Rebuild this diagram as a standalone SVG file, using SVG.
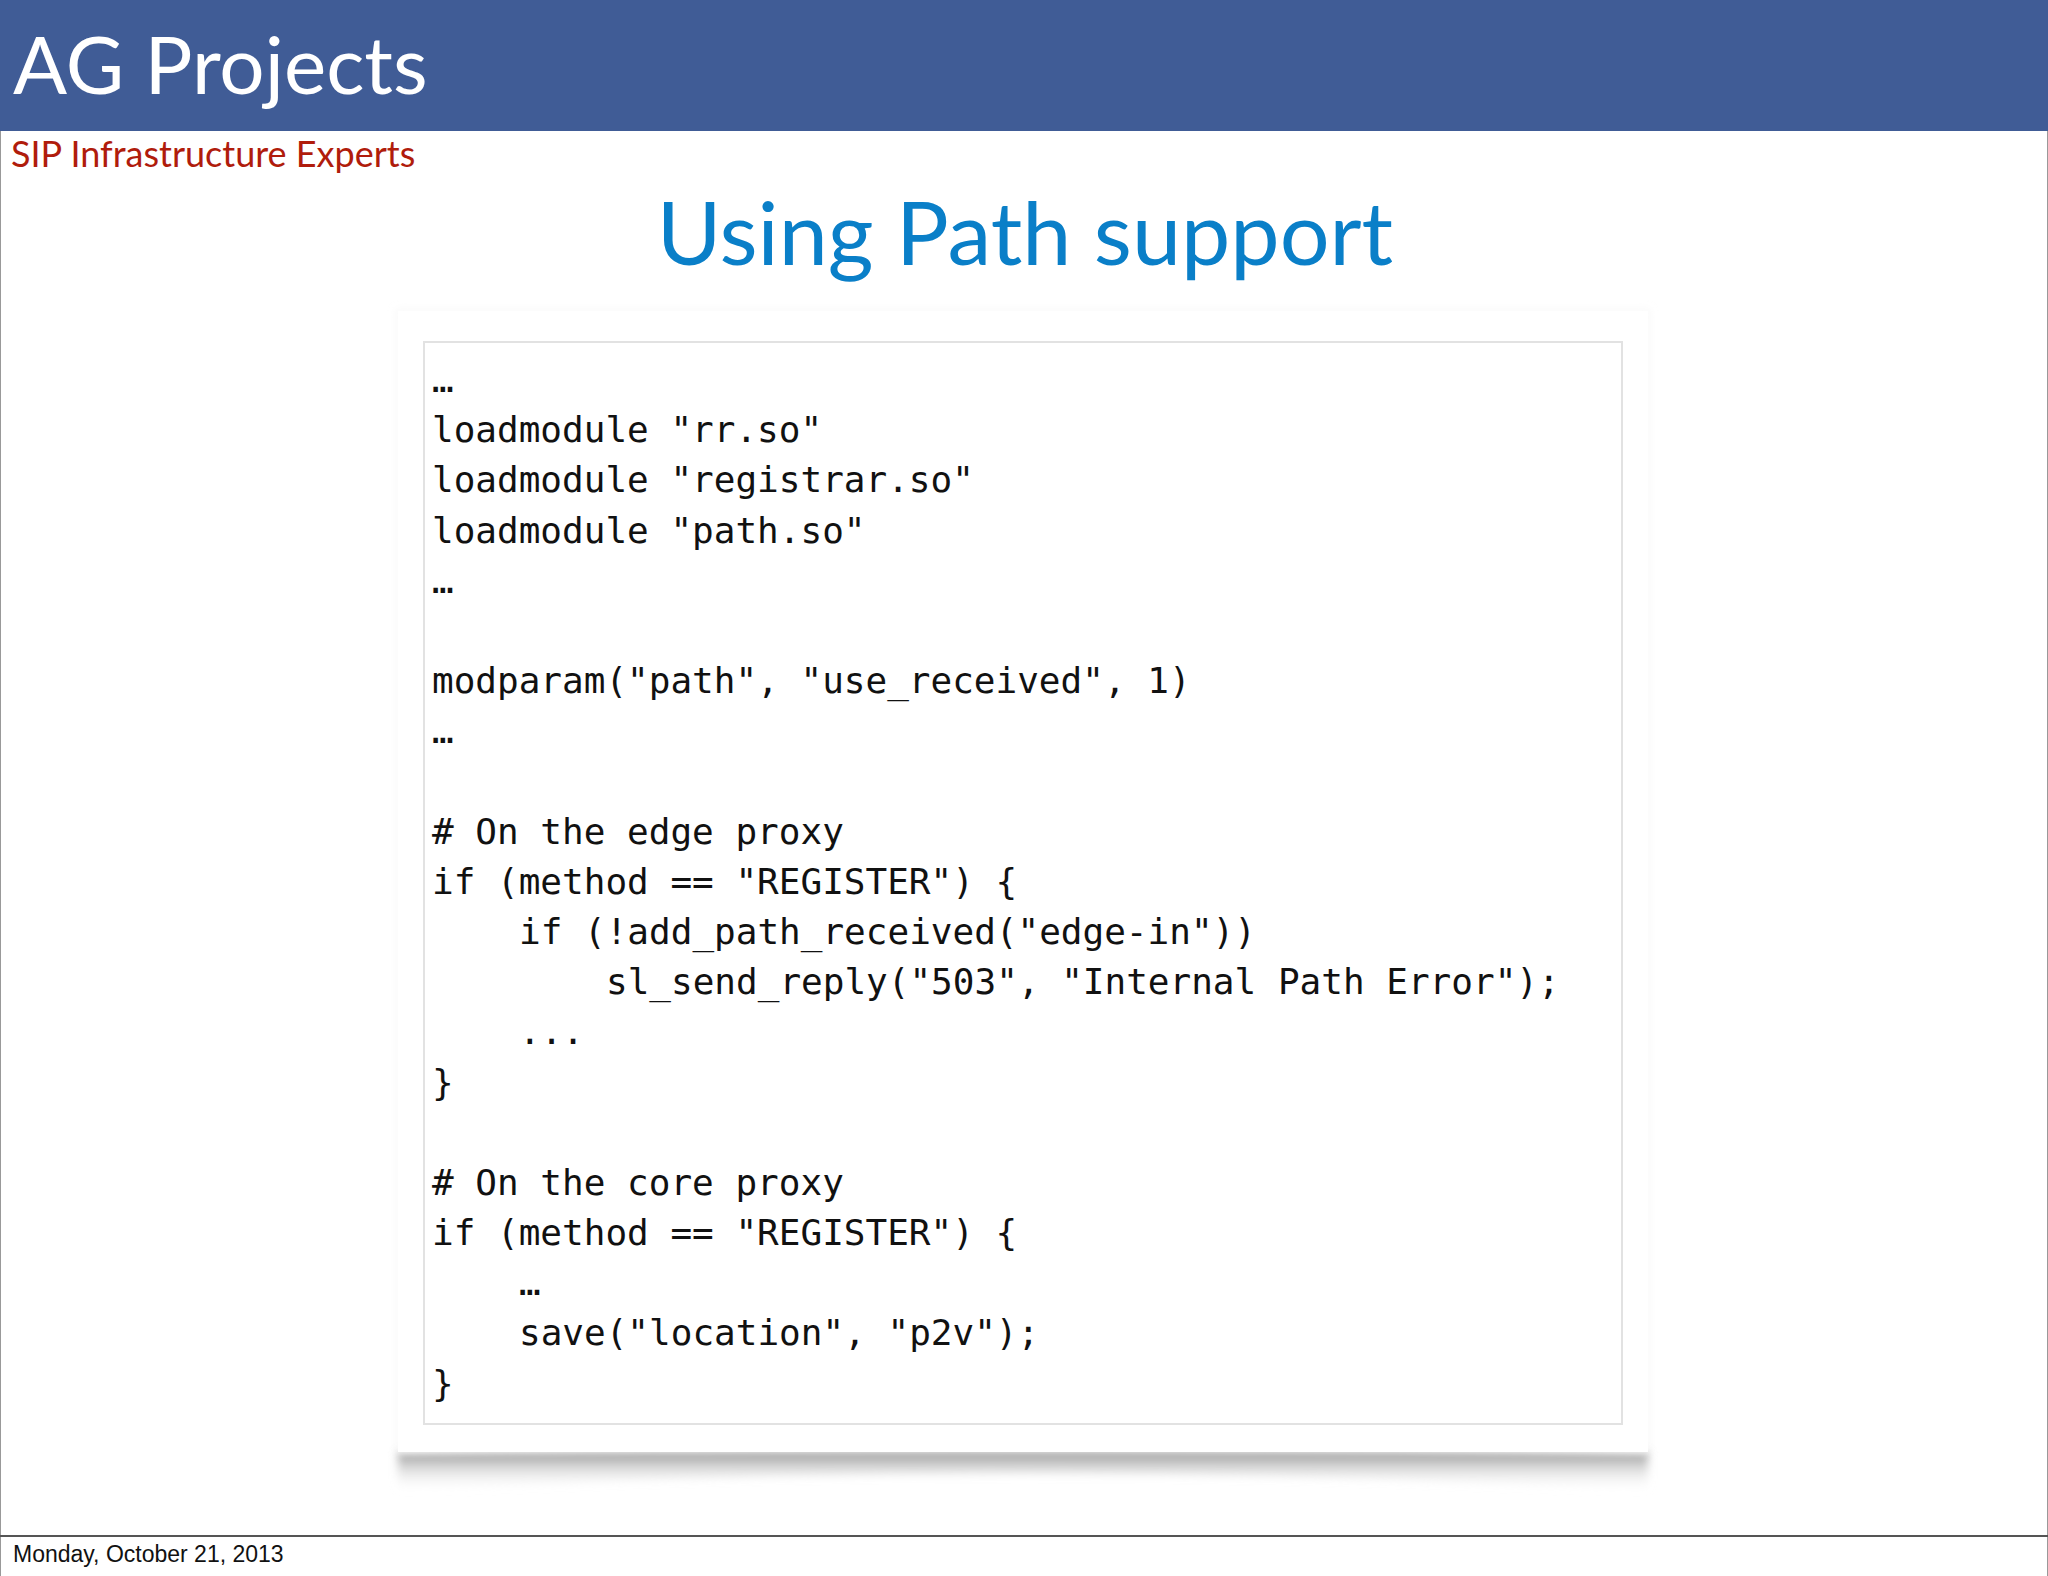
<svg xmlns="http://www.w3.org/2000/svg" width="2048" height="1576" viewBox="0 0 2048 1576">
<defs>
<style>
.code{font-family:"DejaVu Sans Mono","Liberation Mono",monospace;font-size:36px;fill:#111}
</style>
<linearGradient id="sh" x1="0" y1="0" x2="0" y2="1"><stop offset="0" stop-color="#777"/><stop offset="1" stop-color="#fff" stop-opacity="0"/></linearGradient>
<filter id="bl"><feGaussianBlur stdDeviation="4"/></filter>
</defs>
<rect width="2048" height="1576" fill="#fff"/>
<rect x="0.5" y="0" width="2047" height="2006" fill="none" stroke="#999"/>
<g id="header">
<rect x="0" y="0" width="2048" height="131" fill="#405C96"/>
<text x="13" y="94" font-family="Lato,'Open Sans',sans-serif" font-size="80" fill="#fff">AG Projects</text>
<text x="11" y="167" font-family="Lato,'Open Sans',sans-serif" font-size="36" fill="#B01C0C">SIP Infrastructure Experts</text>
</g>
<text id="title" x="1025" y="265" text-anchor="middle" font-family="Lato,'Open Sans',sans-serif" font-size="88" fill="#0A7FC8">Using Path support</text>
<g id="codebox">
<path d="M398 1452 Q1023 1440 1648 1452 L1648 1492 Q1023 1455 398 1492 Z" fill="url(#sh)" filter="url(#bl)"/>
<rect x="398" y="311" width="1250" height="1141" fill="#fff" stroke="#ddd" filter="url(#bl)"/>
<rect x="398" y="311" width="1250" height="1141" fill="#fff"/>
<rect x="424" y="342" width="1198" height="1082" fill="#fff" stroke="#e2e2e2" stroke-width="2"/>
<g class="code">
<text x="432" y="392">…</text>
<text x="432" y="442">loadmodule "rr.so"</text>
<text x="432" y="492">loadmodule "registrar.so"</text>
<text x="432" y="543">loadmodule "path.so"</text>
<text x="432" y="593">…</text>
<text x="432" y="693">modparam("path", "use_received", 1)</text>
<text x="432" y="743">…</text>
<text x="432" y="844">
# On the edge proxy</text>
<text x="432" y="894">if (method == "REGISTER") {</text>
<text x="519" y="944">if (!add_path_received("edge-in"))</text>
<text x="606" y="994">sl_send_reply("503", "Internal Path Error");</text>
<text x="519" y="1044">...</text>
<text x="432" y="1095">}</text>
<text x="432" y="1195"># On the core proxy</text>
<text x="432" y="1245">if (method == "REGISTER") {</text>
<text x="519" y="1295">…</text>
<text x="519" y="1345">save("location", "p2v");</text>
<text x="432" y="1396">}</text>
</g>
</g>
<g id="footer">
<line x1="0" y1="1536" x2="2048" y2="1536" stroke="#555" stroke-width="2"/>
<text x="13" y="1562" font-family="'Liberation Sans',Arial,sans-serif" font-size="23" fill="#111">Monday, October 21, 2013</text>
</g>
</svg>
